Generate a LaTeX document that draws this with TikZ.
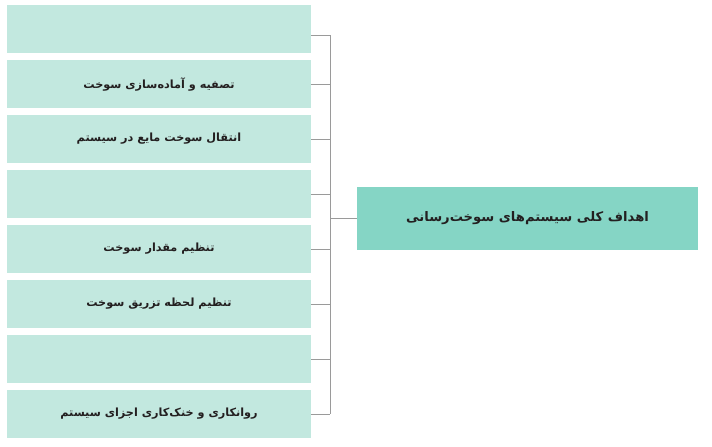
\documentclass[tikz,border=0pt]{standalone}
\usepackage{fontspec}
\newfontfamily\arabicfont[Script=Arabic]{DejaVu Sans}
\TeXXeTstate=1
\usetikzlibrary{positioning}
\definecolor{goalfill}{HTML}{C2E8DF}
\definecolor{mainfill}{HTML}{85D5C5}
\definecolor{linkgray}{HTML}{9A9A9A}
\definecolor{textdark}{HTML}{231F20}

\begin{document}
\begin{tikzpicture}[node distance=55bp]
        % Define styles
        \tikzstyle{goal} = [rectangle, fill=goalfill, minimum width=304bp,
            minimum height=48bp, inner sep=0pt, text=textdark,
            font=\arabicfont\bfseries\fontsize{11.3}{13}\selectfont]
        \tikzstyle{mainbox} = [rectangle, fill=mainfill, minimum width=341bp,
            minimum height=63bp, inner sep=0pt, text=textdark,
            font=\arabicfont\bfseries\fontsize{13.2}{15}\selectfont]
        \tikzstyle{link} = [draw=linkgray, line width=0.8bp]

        \useasboundingbox (0,0) rectangle (712bp,-447bp);

        % Nodes
        \node [goal] (g1) at (159bp,-29bp) {};
        \node [goal, below of=g1] (g2) {\beginR تصفیه و آماده^^^^200cسازی سوخت\endR};
        \node [goal, below of=g2] (g3) {\beginR انتقال سوخت مایع در سیستم\endR};
        \node [goal, below of=g3] (g4) {};
        \node [goal, below of=g4] (g5) {\beginR تنظیم مقدار سوخت\endR};
        \node [goal, below of=g5] (g6) {\beginR تنظیم لحظه تزریق سوخت\endR};
        \node [goal, below of=g6] (g7) {};
        \node [goal, below of=g7] (g8) {\beginR روانکاری و خنک^^^^200cکاری اجزای سیستم\endR};
        \node [mainbox] (main) at (527.5bp,-218.5bp) {\beginR اهداف کلی سیستم^^^^200cهای سوخت^^^^200cرسانی\endR};
        \coordinate (bus) at (330bp,-220bp);
        \coordinate (top) at ([yshift=-6bp]g1.east);

        % Connectors
        \draw [link] (top) -- (top -| bus);
        \draw [link] (g2.east) -- (g2.east -| bus);
        \draw [link] (g3.east) -- (g3.east -| bus);
        \draw [link] (g4.east) -- (g4.east -| bus);
        \draw [link] (g5.east) -- (g5.east -| bus);
        \draw [link] (g6.east) -- (g6.east -| bus);
        \draw [link] (g7.east) -- (g7.east -| bus);
        \draw [link] (g8.east) -- (g8.east -| bus);
        \draw [link] (top -| bus) -- (g8.east -| bus);
        \draw [link] (main.west) -- (main.west -| bus);

    \end{tikzpicture}
\end{document}
